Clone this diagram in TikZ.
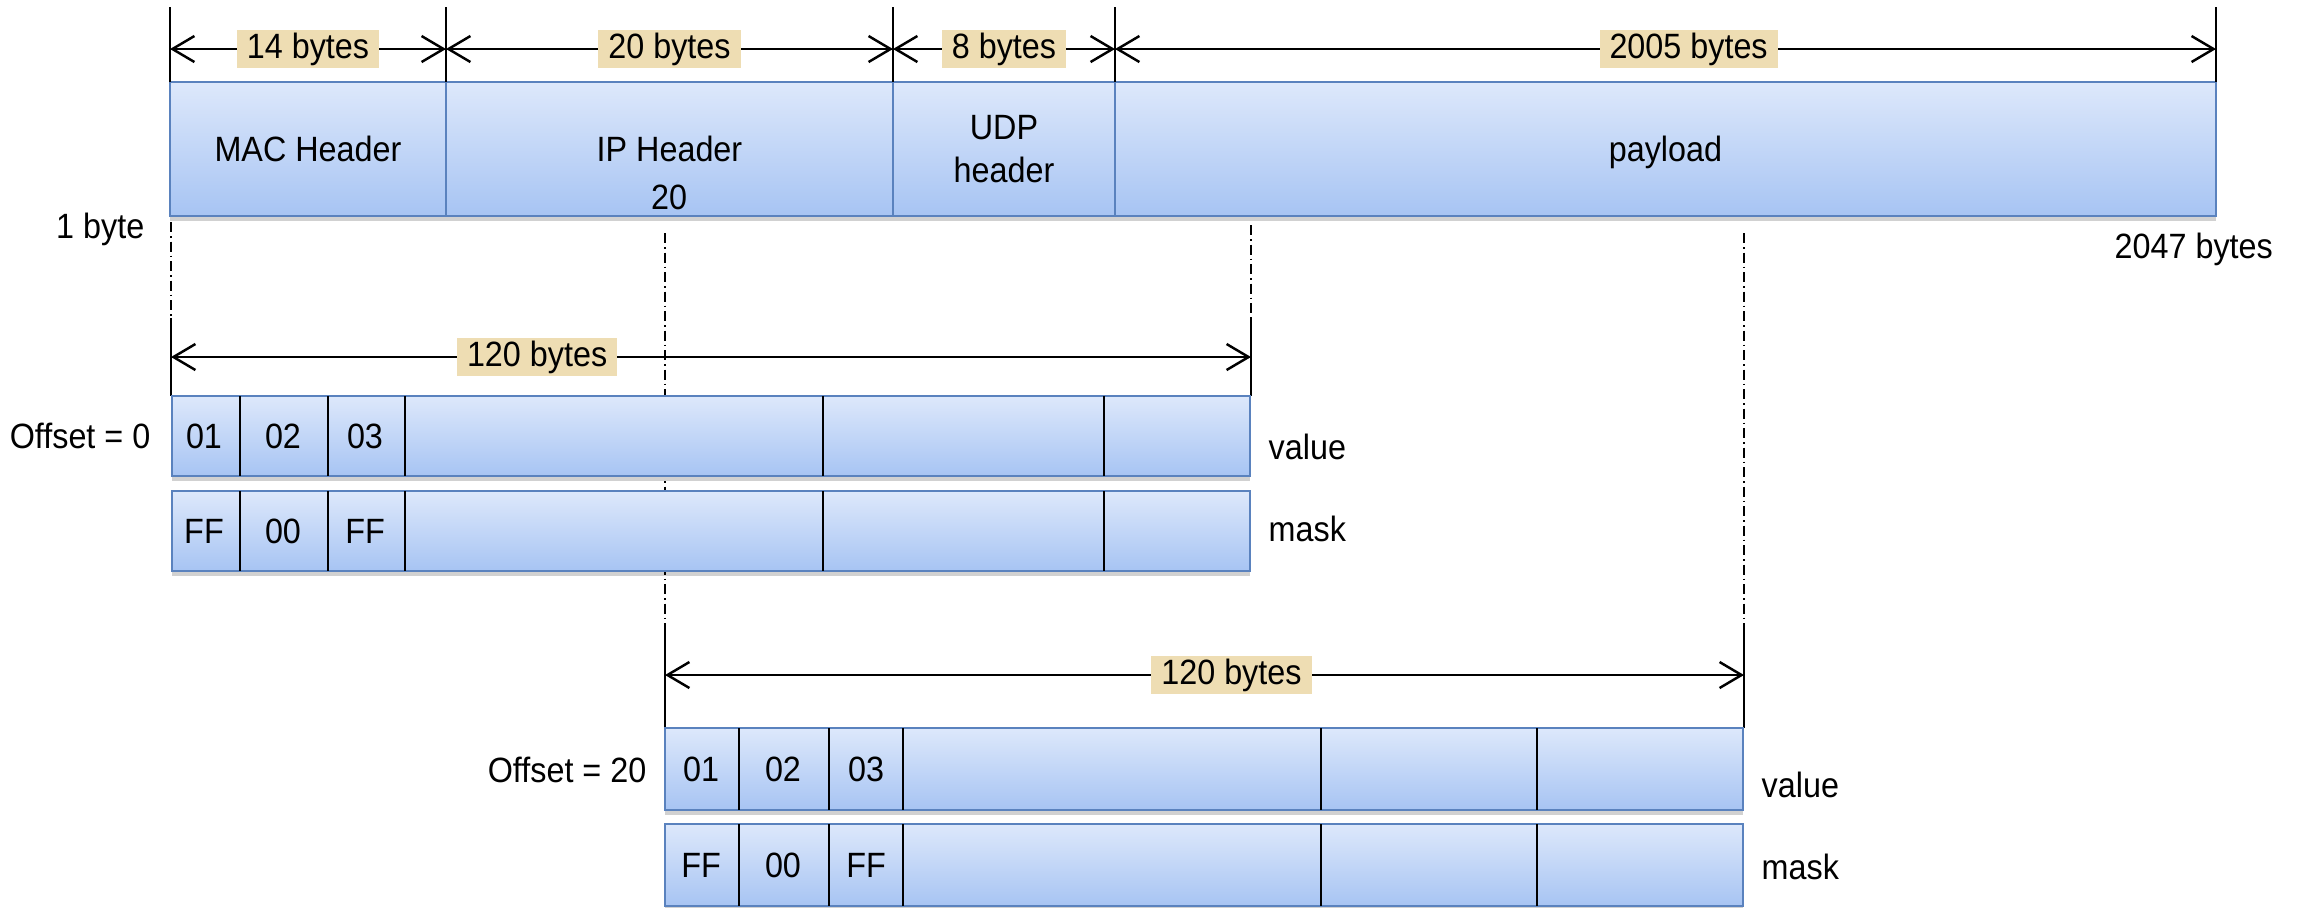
\documentclass[tikz,border=0pt]{standalone}
\usepackage{fontspec}
\setmainfont{Liberation Sans}[FakeStretch=0.92]
\usepackage{tikz}
\usetikzlibrary{positioning, arrows.meta, shadows}
\definecolor{boxtop}{HTML}{DDE8FB}
\definecolor{boxbot}{HTML}{A7C4F3}
\definecolor{boxline}{HTML}{5A82BE}
\definecolor{tanfill}{HTML}{EEDDB3}
\tikzstyle{hdrbox} = [rectangle, minimum height=13.4mm, inner sep=0pt, outer sep=0pt, text centered, line width=0.8pt, draw=boxline, top color=boxtop, bottom color=boxbot, drop shadow={shadow xshift=0mm, shadow yshift=-0.5mm, opacity=0.18, fill=black}]
\tikzstyle{rowbox} = [rectangle, minimum width=107.8mm, minimum height=8mm, inner sep=0pt, outer sep=0pt, line width=0.8pt, draw=boxline, top color=boxtop, bottom color=boxbot, drop shadow={shadow xshift=0mm, shadow yshift=-0.5mm, opacity=0.18, fill=black}]
\tikzstyle{sizelabel} = [fill=tanfill, inner xsep=1mm, inner ysep=0pt, minimum height=3.8mm]
\tikzstyle{freetext} = [inner sep=0pt]
\tikzstyle{dimline} = [line width=0.7pt, <->, >={Straight Barb[length=2.2mm,width=2.6mm]}]
\tikzstyle{tickline} = [line width=0.5pt]
\tikzstyle{guideline} = [line width=0.5pt, dash pattern=on 1mm off 0.4mm on 0.15mm off 0.4mm]
\tikzstyle{cellsep} = [line width=0.6pt]

\begin{document}
\begin{tikzpicture}[x=0.1mm, y=-0.1mm, font=\fontsize{10}{12.2}\selectfont]
\useasboundingbox (0,0) rectangle (2303,907);

% guides down from the frame
\foreach \x/\top/\mid/\bot in {171/222/318/396, 1251/225/318/396, 665/233/625/728, 1744/233/625/728} {
  \draw [guideline] (\x,\top) -- (\x,\mid);
  \draw [tickline] (\x,\mid) -- (\x,\bot);
}

% frame
\node (mac) [hdrbox, minimum width=27.6mm, anchor=north west] at (170,82) {MAC Header};
\node (ip) [hdrbox, minimum width=44.7mm, right=0pt of mac] {IP Header};
\node (udp) [hdrbox, minimum width=22.2mm, right=0pt of ip, align=center] {UDP\\header};
\node (payload) [hdrbox, minimum width=110.1mm, right=0pt of udp, text depth=0pt] {payload};
\node (ipsize) at (669,197) {20};

\foreach \b in {mac.north west, ip.north west, udp.north west, payload.north west, payload.north east}
  \draw [tickline] (\b) -- ++(0,-75);
\coordinate (d0) at (mac.north west |- 0,49);
\coordinate (d1) at (ip.north west |- 0,49);
\coordinate (d2) at (udp.north west |- 0,49);
\coordinate (d3) at (payload.north west |- 0,49);
\coordinate (d4) at (payload.north east |- 0,49);
\draw [dimline] (d0) -- node[sizelabel] {14 bytes} (d1);
\draw [dimline] (d1) -- node[sizelabel] {20 bytes} (d2);
\draw [dimline] (d2) -- node[sizelabel] {8 bytes} (d3);
\draw [dimline] (d3) -- node[sizelabel, pos=0.521] {2005 bytes} (d4);

\node (firstbyte) [freetext, anchor=east] at (145,229) {1 byte};
\node (lastbyte) [freetext, anchor=west] at (2114,249) {2047 bytes};

% offset 0
\coordinate (r0) at (171,357);
\coordinate (r1) at (1251,357);
\draw [dimline] (r0) -- node[sizelabel, pos=0.339] {120 bytes} (r1);
\node (val1) [rowbox, anchor=north west] at (172,396) {};
\node (mask1) [rowbox, below=1.5mm of val1] {};
\foreach \x in {240,328,405,823,1104} {
  \draw [cellsep] (\x,396) -- (\x,476);
  \draw [cellsep] (\x,491) -- (\x,571);
}
\foreach \x/\v/\m [count=\i] in {204/01/FF, 283/02/00, 365/03/FF} {
  \node (vone\i) at (\x,436) {\v};
  \node (mone\i) at (\x,531) {\m};
}
\node (off0) [freetext, anchor=east] at (151,436) {Offset = 0};
\node (val1txt) [freetext, anchor=west] at (1268,447) {value};
\node (mask1txt) [freetext, anchor=west] at (1268,529) {mask};

% offset 20
\coordinate (s0) at (665,675);
\coordinate (s1) at (1744,675);
\draw [dimline] (s0) -- node[sizelabel, pos=0.525] {120 bytes} (s1);
\node (val2) [rowbox, minimum height=8.2mm, anchor=north west] at (665,728) {};
\node (mask2) [rowbox, minimum height=8.2mm, below=1.4mm of val2] {};
\foreach \x in {739,829,903,1321,1537} {
  \draw [cellsep] (\x,728) -- (\x,810);
  \draw [cellsep] (\x,824) -- (\x,906);
}
\foreach \x/\v/\m [count=\i] in {701/01/FF, 783/02/00, 866/03/FF} {
  \node (vtwo\i) at (\x,769) {\v};
  \node (mtwo\i) at (\x,865) {\m};
}
\node (off20) [freetext, anchor=east] at (647,770) {Offset = 20};
\node (val2txt) [freetext, anchor=west] at (1761,785) {value};
\node (mask2txt) [freetext, anchor=west] at (1761,867) {mask};
\end{tikzpicture}
\end{document}
